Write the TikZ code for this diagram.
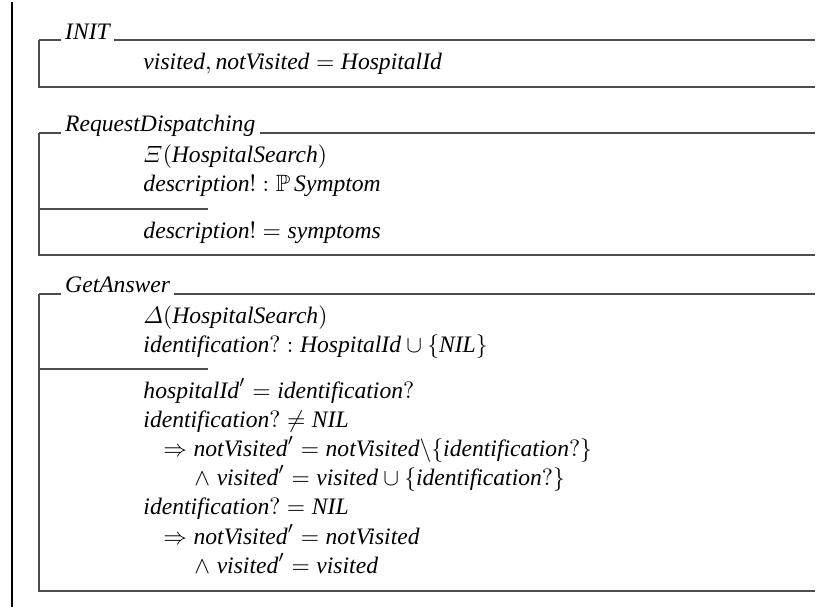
\documentclass[tikz,border=0pt]{standalone}
\usepackage{amsmath,amssymb}
\usepackage{fontspec}
\setmainfont{Liberation Serif}
% italic identifiers in the text face, Greek capitals from the CM letters font
\newcommand\zn[1]{\textit{#1}}
\DeclareMathSymbol{\zXi}{\mathord}{letters}{"04}
\DeclareMathSymbol{\zDelta}{\mathord}{letters}{"01}

\begin{document}
\begin{tikzpicture}[x=0.42373pt,y=-0.42373pt,
  zline/.style={line width=0.75pt, draw=black!70},
  ztitle/.style={anchor=base west, inner xsep=1.6pt, inner ysep=0pt, font=\itshape},
  zrow/.style={anchor=base west, inner sep=0pt}]
\useasboundingbox (0,0) rectangle (825,607);

% margin rule
\draw[line width=0.45pt] (12,2) -- (12,607);

% ---------- INIT ----------
\coordinate (iTL) at (39,40);  \coordinate (iTR) at (815,40);
\coordinate (iBL) at (39,87);  \coordinate (iBR) at (815,87);
\node[ztitle] (iT) at (61,39) {INIT};
\draw[zline] (iTL) -- (iT.west |- iTL);
\draw[zline] (iT.east |- iTL) -- (iTR);
\draw[zline] (iTL) -- (iBL) -- (iBR);
\node[zrow] (i1) at (143,69) {$\zn{visited}, \zn{notVisited} = \zn{HospitalId}$};

% ---------- RequestDispatching ----------
\coordinate (rTL) at (39,133); \coordinate (rTR) at (815,133);
\coordinate (rSL) at (39,209); \coordinate (rSR) at (208,209);
\coordinate (rBL) at (39,255); \coordinate (rBR) at (815,255);
\node[ztitle] (rT) at (61,131.5) {RequestDispatching};
\draw[zline] (rTL) -- (rT.west |- rTL);
\draw[zline] (rT.east |- rTL) -- (rTR);
\draw[zline] (rTL) -- (rBL) -- (rBR);
\draw[zline] (rSL) -- (rSR);
\node[zrow] (r1) at (143,162) {$\zXi(\zn{HospitalSearch})$};
\node[zrow] (r2) at (143,191) {$\zn{description}! : \mathbb{P}\,\zn{Symptom}$};
\node[zrow] (r3) at (143,238) {$\zn{description}! = \zn{symptoms}$};

% ---------- GetAnswer ----------
\coordinate (gTL) at (39,294); \coordinate (gTR) at (815,294);
\coordinate (gSL) at (39,369); \coordinate (gSR) at (208,369);
\coordinate (gBL) at (39,591); \coordinate (gBR) at (815,591);
\node[ztitle] (gT) at (61,292.5) {GetAnswer};
\draw[zline] (gTL) -- (gT.west |- gTL);
\draw[zline] (gT.east |- gTL) -- (gTR);
\draw[zline] (gTL) -- (gBL) -- (gBR);
\draw[zline] (gSL) -- (gSR);
\node[zrow] (g1) at (143,323) {$\zDelta(\zn{HospitalSearch})$};
\node[zrow] (g2) at (143,352) {$\zn{identification}? : \zn{HospitalId} \cup \{\zn{NIL}\}$};
\node[zrow] (g3) at (143,398) {$\zn{hospitalId}' = \zn{identification}?$};
\node[zrow] (g4) at (143,427) {$\zn{identification}? \neq \zn{NIL}$};
\node[zrow] (g5) at (163,456) {$\Rightarrow \zn{notVisited}' = \zn{notVisited}\backslash\{\zn{identification}?\}$};
\node[zrow] (g6) at (194,485) {$\wedge\;\zn{visited}' = \zn{visited} \cup \{\zn{identification}?\}$};
\node[zrow] (g7) at (143,514) {$\zn{identification}? = \zn{NIL}$};
\node[zrow] (g8) at (163,544) {$\Rightarrow \zn{notVisited}' = \zn{notVisited}$};
\node[zrow] (g9) at (194,573) {$\wedge\;\zn{visited}' = \zn{visited}$};
\end{tikzpicture}
\end{document}
